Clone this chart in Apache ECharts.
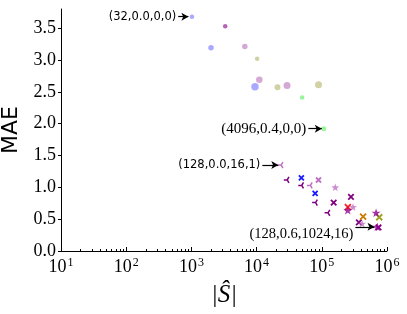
<!DOCTYPE html>
<html><head><meta charset="utf-8">
<script src="https://cdn.jsdelivr.net/npm/echarts@6/dist/echarts.min.js"></script>
<style>html,body{margin:0;padding:0;background:#fff}#c{width:407px;height:314px}</style>
</head><body><div id="c"></div>
<script>
// ---- data ----
const xTicks = [10, 100, 1000, 10000, 100000, 1000000];
const xMinorTicks = [20,30,40,50,60,70,80,90,200,300,400,500,600,700,800,900,2000,3000,4000,5000,6000,7000,8000,9000,20000,30000,40000,50000,60000,70000,80000,90000,200000,300000,400000,500000,600000,700000,800000,900000];
const yTicks = [0, 0.5, 1.0, 1.5, 2.0, 2.5, 3.0, 3.5];

const blueCircles = [[1020,3.68],[2000,3.19],[9450,2.58]];
const magentaCircles = [[3300,3.53]];
const orchidCircles = [[6600,3.21],[11000,2.69],[29300,2.60]];
const oliveCircles = [[10200,3.02],[20900,2.57],[89000,2.61]];
const greenCircles = [[50000,2.41],[107000,1.92]];

const blueX = [[48600,1.15],[79000,0.905]];
const purpleX = [[152000,0.76],[280000,0.85],[370000,0.45],[740000,0.37]];
const orchidX = [[89000,1.115]];
const redX = [[251000,0.69]];
const orangeX = [[430000,0.54]];
const oliveX = [[760000,0.53]];

const orchidTri = [[23100,1.35],[64900,1.03]];
const purpleTri = [[28600,1.115],[47800,1.03],[77900,0.76],[121000,0.60]];

const orchidStar = [[161000,1.0],[301000,0.69],[415000,0.43]];
const purpleStar = [[250000,0.64],[680000,0.60],[710000,0.38]];

const annoTexts = ['(32,0.0,0,0)', '(4096,0.4,0,0)', '(128,0.0,16,1)', '(128,0.6,1024,16)'];
const annoFrom = [[627,3.68],[62200,1.92],[12250,1.35],[328000,0.38]];
const annoTo = [[900,3.68],[100000,1.92],[21500,1.35],[643000,0.38]];

// ---- styles ----
const circleSizes = {blue:[4.5,5.5,7.5], magenta:[4.5], orchid:[5.5,6.5,7], olive:[4.5,6,7], green:[4.5,5]};
const X_PATH = 'path://M0,0L10,10M10,0L0,10';
const TRI_PATH = 'path://M0,5L5,5L7.5,0.67M5,5L7.5,9.33';
const STAR_PATH = 'path://M5,0L6.18,3.38L9.76,3.45L6.9,5.62L7.94,9.05L5,7L2.06,9.05L3.1,5.62L0.24,3.45L3.82,3.38Z';
const annoStyle = [
  {fontFamily:'DejaVu Sans', fontSize:11.5, verticalAlign:'middle'},
  {fontFamily:'Liberation Serif', fontSize:15, verticalAlign:'middle'},
  {fontFamily:'DejaVu Sans', fontSize:11.5, verticalAlign:'middle'},
  {fontFamily:'Liberation Serif', fontSize:14.5, verticalAlign:'top'}
];

function circleSeries(data, color, sizes){
  return {type:'scatter', data:data, symbol:'circle', symbolSize:(v,p)=>sizes[p.dataIndex],
    itemStyle:{color:color}, silent:true};
}
function strokeSeries(data, path, color, size, w){
  return {type:'scatter', data:data, symbol:path, symbolSize:size, symbolKeepAspect:true,
    itemStyle:{color:'rgba(0,0,0,0)', borderColor:color, borderWidth:w, opacity:1}, silent:true};
}
function starSeries(data, color, size){
  return {type:'scatter', data:data, symbol:STAR_PATH, symbolSize:size, symbolKeepAspect:true,
    itemStyle:{color:color}, silent:true};
}

const chart = echarts.init(document.getElementById('c'), null, {renderer:'canvas'});
const option = {
  animation:false,
  backgroundColor:'#fff',
  grid:{left:61, right:20, top:9, bottom:63, containLabel:false, outerBoundsMode:'none'},
  xAxis:[{
    type:'log', min:10, max:1000000,
    name:'|Ŝ|', nameLocation:'middle', nameGap:44,
    nameTextStyle:{fontFamily:'Liberation Serif', fontStyle:'italic', fontSize:25, color:'#000', verticalAlign:'middle'},
    axisLine:{show:true, lineStyle:{color:'#000', width:1}},
    axisTick:{inside:true, length:4, customValues:xTicks, lineStyle:{color:'#000'}},
    axisLabel:{customValues:xTicks, margin:6,
      formatter:v=>'{b|10}{s|'+Math.round(Math.log10(v))+'}',
      rich:{b:{fontFamily:'Liberation Serif', fontSize:18, color:'#000'},
            s:{fontFamily:'Liberation Serif', fontSize:12, color:'#000', verticalAlign:'top', padding:[0,0,8,1]}}},
    splitLine:{show:false}
  },{
    type:'log', min:10, max:1000000, position:'bottom',
    axisLine:{show:false}, axisLabel:{show:false},
    axisTick:{inside:true, length:2, customValues:xMinorTicks, lineStyle:{color:'#000'}},
    splitLine:{show:false}
  }],
  yAxis:{
    type:'value', min:0, max:3.8,
    name:'MAE', nameLocation:'middle', nameGap:35,
    nameTextStyle:{fontFamily:'DejaVu Sans', fontSize:22, color:'#000'},
    axisLine:{show:true, lineStyle:{color:'#000', width:1}},
    axisTick:{customValues:yTicks, length:3, lineStyle:{color:'#000'}},
    axisLabel:{customValues:yTicks, formatter:v=>v.toFixed(1), margin:5,
      fontFamily:'Liberation Serif', fontSize:18, color:'#000'},
    splitLine:{show:false}
  },
  series:[
    circleSeries(blueCircles, 'rgba(40,40,255,0.5)', circleSizes.blue),
    circleSeries(magentaCircles, 'rgba(130,0,130,0.75)', circleSizes.magenta),
    circleSeries(orchidCircles, 'rgba(150,40,150,0.5)', circleSizes.orchid),
    circleSeries(oliveCircles, 'rgba(128,128,0,0.45)', circleSizes.olive),
    circleSeries(greenCircles, 'rgba(0,230,0,0.5)', circleSizes.green),
    strokeSeries(orchidTri, TRI_PATH, '#c070c0', 6, 1.5),
    strokeSeries(purpleTri, TRI_PATH, '#800080', 6, 1.5),
    strokeSeries(blueX, X_PATH, '#1a1aff', 5, 1.8),
    strokeSeries(orchidX, X_PATH, '#c070c0', 5, 1.8),
    strokeSeries(purpleX, X_PATH, '#800080', 5.5, 1.8),
    strokeSeries(redX, X_PATH, '#ff2020', 6, 1.8),
    strokeSeries(orangeX, X_PATH, '#cc7a00', 6, 1.8),
    strokeSeries(oliveX, X_PATH, '#a0a020', 6, 1.8),
    starSeries(orchidStar, '#c070c0', 8),
    starSeries(purpleStar, '#900090', 9),
    {type:'line', data:[], silent:true,
      markLine:{silent:true, symbol:['none','arrow'], symbolSize:[6,7], animation:false,
        lineStyle:{color:'#000', width:1.2, type:'solid'},
        data: annoTexts.map((t,i)=>[
          {coord:annoFrom[i], label:Object.assign({show:true, position:'start', distance:2, formatter:t, color:'#000'}, annoStyle[i])},
          {coord:annoTo[i]}
        ])}}
  ]
};
chart.setOption(option);
</script></body></html>
